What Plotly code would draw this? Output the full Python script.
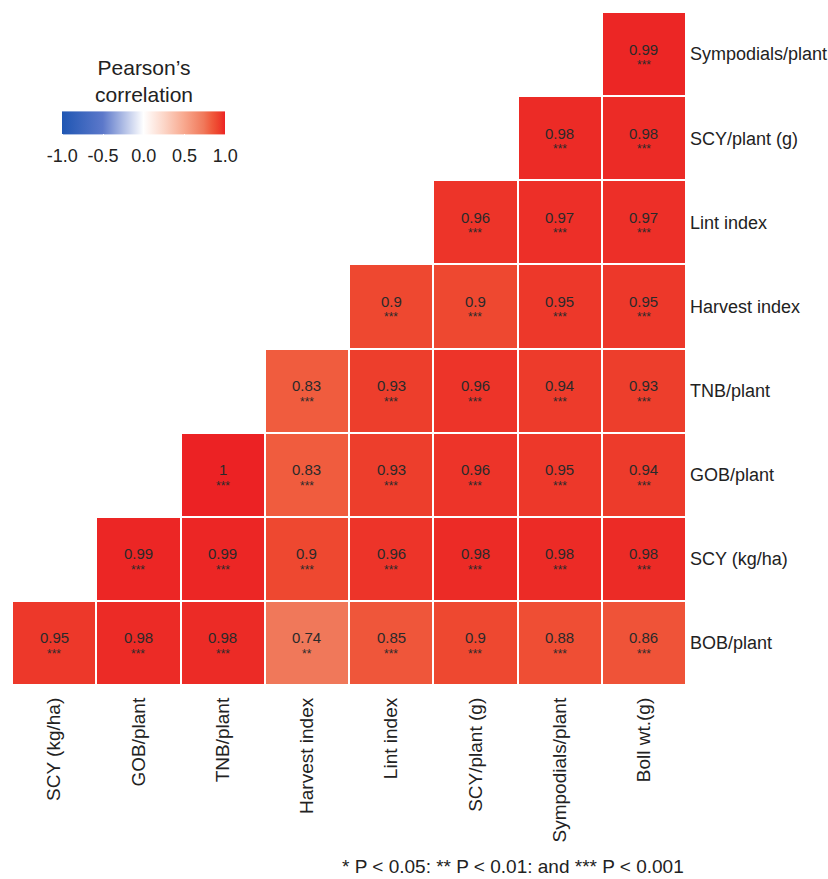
import plotly.graph_objects as go

# Trait names: columns (bottom axis) and rows (right axis, bottom to top)
x_traits = ["SCY (kg/ha)", "GOB/plant", "TNB/plant", "Harvest index",
            "Lint index", "SCY/plant (g)", "Sympodials/plant", "Boll wt.(g)"]
y_traits = ["BOB/plant", "SCY (kg/ha)", "GOB/plant", "TNB/plant",
            "Harvest index", "Lint index", "SCY/plant (g)", "Sympodials/plant"]

# Pearson coefficients, one row per y trait (None = upper triangle, not shown)
r_bob   = [0.95, 0.98, 0.98, 0.74, 0.85, 0.90, 0.88, 0.86]
r_scy   = [None, 0.99, 0.99, 0.90, 0.96, 0.98, 0.98, 0.98]
r_gob   = [None, None, 1.00, 0.83, 0.93, 0.96, 0.95, 0.94]
r_tnb   = [None, None, None, 0.83, 0.93, 0.96, 0.94, 0.93]
r_hi    = [None, None, None, None, 0.90, 0.90, 0.95, 0.95]
r_lint  = [None, None, None, None, None, 0.96, 0.97, 0.97]
r_scyp  = [None, None, None, None, None, None, 0.98, 0.98]
r_symp  = [None, None, None, None, None, None, None, 0.99]

# Significance stars per cell
s_bob   = ["***", "***", "***", "**", "***", "***", "***", "***"]
s_scy   = [None, "***", "***", "***", "***", "***", "***", "***"]
s_gob   = [None, None, "***", "***", "***", "***", "***", "***"]
s_tnb   = [None, None, None, "***", "***", "***", "***", "***"]
s_hi    = [None, None, None, None, "***", "***", "***", "***"]
s_lint  = [None, None, None, None, None, "***", "***", "***"]
s_scyp  = [None, None, None, None, None, None, "***", "***"]
s_symp  = [None, None, None, None, None, None, None, "***"]

z = [r_bob, r_scy, r_gob, r_tnb, r_hi, r_lint, r_scyp, r_symp]
stars = [s_bob, s_scy, s_gob, s_tnb, s_hi, s_lint, s_scyp, s_symp]

colorscale = [
    [0.000, "rgb(31,86,179)"],
    [0.250, "rgb(92,120,202)"],
    [0.500, "rgb(255,255,255)"],
    [0.625, "rgb(252,214,200)"],
    [0.750, "rgb(248,168,142)"],
    [0.870, "rgb(240,120,90)"],
    [0.915, "rgb(240,92,62)"],
    [0.950, "rgb(238,72,48)"],
    [0.975, "rgb(237,56,42)"],
    [1.000, "rgb(236,34,36)"],
]

FONT = "Liberation Sans, Arial, sans-serif"

fig = go.Figure(go.Heatmap(
    x=x_traits, y=y_traits, z=z,
    zmin=-1, zmax=1, colorscale=colorscale,
    xgap=2, ygap=2, hoverongaps=False,
    colorbar=dict(
        orientation="h", x=0.1955, xanchor="center",
        y=0.770, yanchor="bottom", ypad=0, xpad=0,
        len=163, lenmode="pixels", thickness=23, outlinewidth=0,
        tickvals=[-1, -0.5, 0, 0.5, 1],
        ticktext=["-1.0", "-0.5", "0.0", "0.5", "1.0"],
        ticks="outside", ticklen=7, tickcolor="white", tickwidth=1,
        tickfont=dict(family=FONT, size=18, color="#222"),
    ),
))

annotations = []
for i, ylab in enumerate(y_traits):
    for j, xlab in enumerate(x_traits):
        v = z[i][j]
        if v is None:
            continue
        label = "1" if v == 1 else f"{v:g}"
        annotations.append(dict(x=xlab, y=ylab, text=label, showarrow=False,
                                yshift=5, font=dict(family=FONT, size=15, color="#2a2a2a")))
        annotations.append(dict(x=xlab, y=ylab, text=stars[i][j], showarrow=False,
                                yshift=-11, font=dict(family=FONT, size=12, color="#2a2a2a")))

annotations.append(dict(xref="paper", yref="paper", x=0.1955, y=0.857,
                        xanchor="center", yanchor="bottom", showarrow=False,
                        text="Pearson\u2019s<br>correlation",
                        font=dict(family=FONT, size=21, color="#222")))
annotations.append(dict(xref="paper", yref="paper", x=1.0, y=-0.269,
                        xanchor="right", yanchor="middle", showarrow=False,
                        text="* P < 0.05: ** P < 0.01: and *** P < 0.001",
                        font=dict(family=FONT, size=19, color="#222")))

fig.update_layout(
    width=828, height=879,
    margin=dict(l=12, r=142, t=12, b=194),
    paper_bgcolor="white", plot_bgcolor="white",
    annotations=annotations,
    xaxis=dict(tickangle=-90, showgrid=False, zeroline=False, showline=False,
               ticks="", automargin=False, ticklabelstandoff=8,
               tickfont=dict(family=FONT, size=19, color="#222")),
    yaxis=dict(side="right", showgrid=False, zeroline=False, showline=False,
               ticks="", automargin=False, ticklabelstandoff=3,
               tickfont=dict(family=FONT, size=18, color="#222")),
)

fig.write_html("out.html")
